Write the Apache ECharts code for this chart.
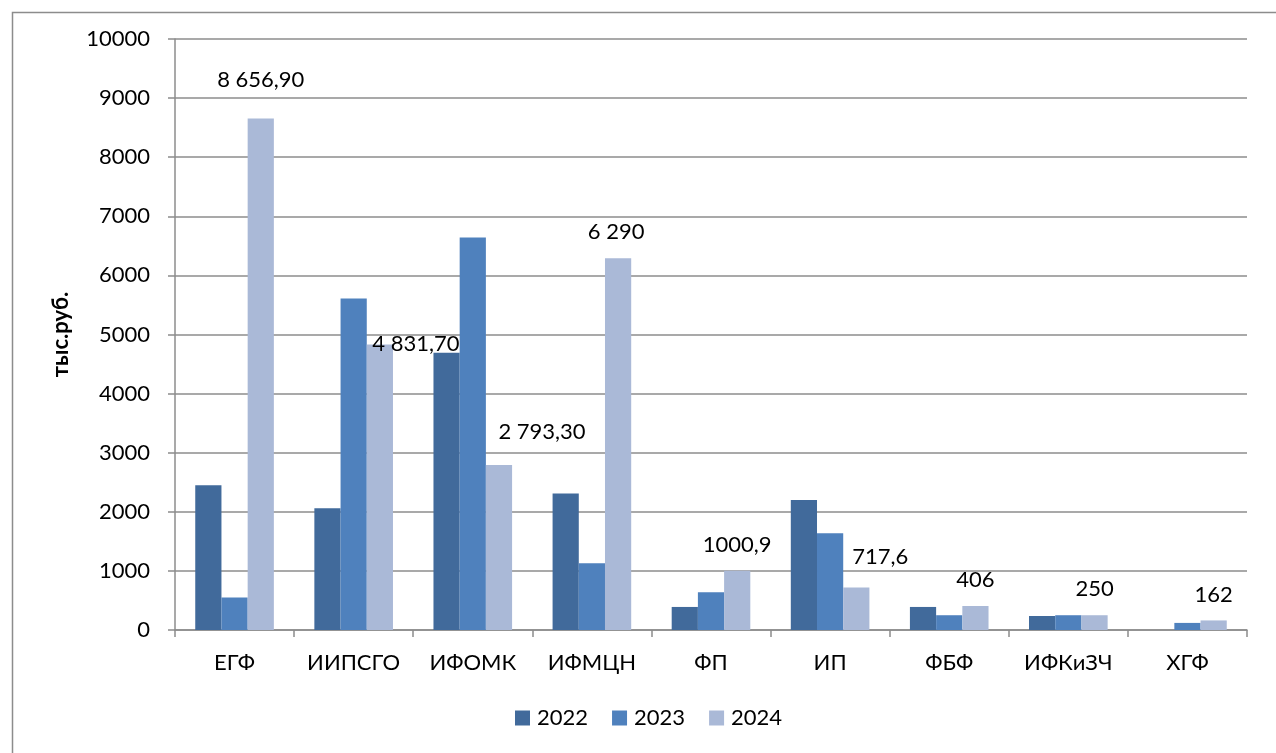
<!DOCTYPE html>
<html>
<head>
<meta charset="utf-8">
<script src="https://cdn.jsdelivr.net/npm/echarts@6/dist/echarts.min.js"></script>
<style>
html,body{margin:0;padding:0;background:#fff;}
#c{width:1276px;height:753px;}
</style>
</head>
<body>
<div id="c"></div>
<script>
const categories = ['ЕГФ','ИИПСГО','ИФОМК','ИФМЦН','ФП','ИП','ФБФ','ИФКиЗЧ','ХГФ'];
const years = ['2022','2023','2024'];
const values2022 = [2450, 2060, 4690, 2310, 390, 2200, 390, 237, 0];
const values2023 = [550, 5610, 6640, 1130, 640, 1635, 250, 250, 120];
const values2024 = [8656.9, 4831.7, 2793.3, 6290, 1000.9, 717.6, 406, 250, 162];
const labels2024 = ['8 656,90','4 831,70','2 793,30','6 290','1000,9','717,6','406','250','162'];
const yTicks = [0,1000,2000,3000,4000,5000,6000,7000,8000,9000,10000];
const colors = ['#416A9B','#4F81BD','#AAB9D7'];
const labelOffsets = [[0,-12],[36,25],[43,-7],[-2,0],[0,0],[24,-5],[0,0],[0,0],[0,0]];

const FONT = 'Lato, "Open Sans", sans-serif';
const chart = echarts.init(document.getElementById('c'), null, {renderer:'canvas'});

const data2024 = values2024.map((v,i)=>({
  value: v,
  label: { offset: labelOffsets[i], formatter: labels2024[i] }
}));

chart.setOption({
  animation: false,
  backgroundColor: '#fff',
  color: colors,
  graphic: [{
    type: 'rect', left: 10, top: 10, z: -1,
    shape: { width: 1265, height: 760 },
    style: { fill: 'none', stroke: '#8c8c8c', lineWidth: 1.5 }
  }],
  grid: { left: 175, right: 29, top: 39, bottom: 123, containLabel: false },
  legend: {
    data: years,
    bottom: 19,
    left: 510,
    itemWidth: 15, itemHeight: 15, itemGap: 24,
    icon: 'rect',
    textStyle: { fontFamily: FONT, fontSize: 22, color: '#000', padding:[0,0,0,2] }
  },
  xAxis: {
    type: 'category',
    data: categories,
    axisLine: { lineStyle: { color: '#8c8c8c', width: 1.5 } },
    axisTick: { show: true, length: 7, alignWithLabel: false, lineStyle: { color: '#8c8c8c', width: 1.5 } },
    axisLabel: { fontFamily: FONT, fontSize: 22, color: '#000', margin: 22, interval: 0 }
  },
  yAxis: {
    type: 'value',
    min: 0, max: 10000, interval: 1000,
    name: 'тыс.руб.',
    nameLocation: 'middle',
    nameGap: 103,
    nameRotate: 90,
    nameTextStyle: { fontFamily: FONT, fontSize: 22, fontWeight: 'bold', color: '#000' },
    axisLine: { show: true, lineStyle: { color: '#8c8c8c', width: 1.5 } },
    axisTick: { show: true, length: 7, lineStyle: { color: '#8c8c8c', width: 1.5 } },
    splitLine: { show: true, lineStyle: { color: '#8c8c8c', width: 1.5 } },
    axisLabel: {
      fontFamily: FONT, fontSize: 22, color: '#000', margin: 25,
      formatter: v => yTicks.includes(v) ? String(v) : ''
    }
  },
  series: [
    { name: years[0], type: 'bar', data: values2022, barGap: '0%', barCategoryGap: '34%',
      itemStyle: { color: colors[0] } },
    { name: years[1], type: 'bar', data: values2023, barGap: '0%', barCategoryGap: '34%',
      itemStyle: { color: colors[1] } },
    { name: years[2], type: 'bar', data: data2024, barGap: '0%', barCategoryGap: '34%',
      itemStyle: { color: colors[2] },
      label: { show: true, position: 'top', distance: 15, fontFamily: FONT, fontSize: 22, color: '#000' } }
  ]
});
</script>
</body>
</html>
